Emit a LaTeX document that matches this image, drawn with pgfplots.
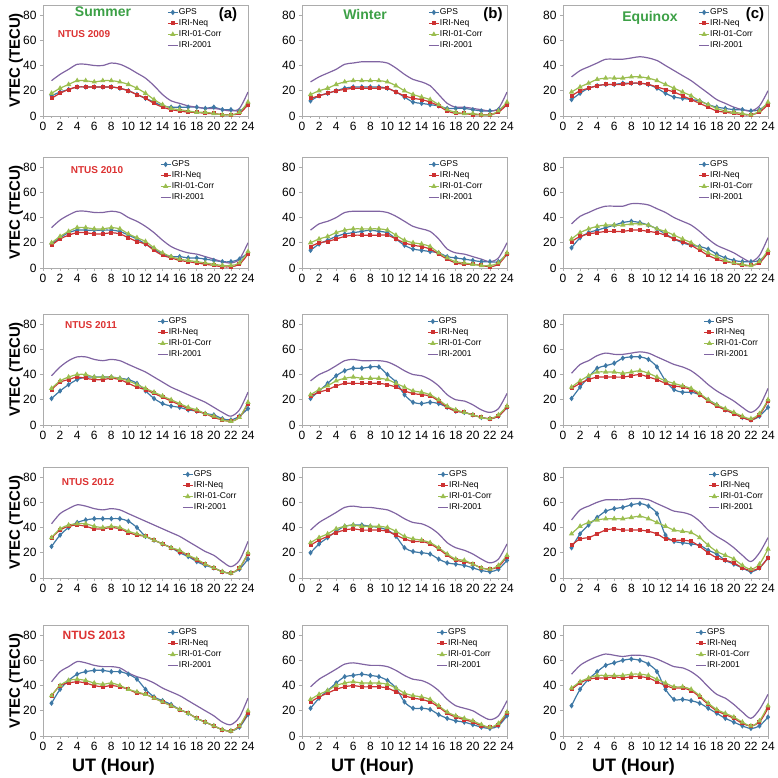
\documentclass[border=0pt]{standalone}
\usepackage{fontspec}
\setmainfont{Liberation Sans}
\usepackage{pgfplots}
\usepackage{pgfplotstable}
\pgfplotsset{compat=1.18}
\definecolor{gpsc}{RGB}{62,120,165}
\definecolor{neqc}{RGB}{205,50,50}
\definecolor{corrc}{RGB}{155,190,80}
\definecolor{iric}{RGB}{128,100,162}
\definecolor{titg}{RGB}{60,160,70}
\definecolor{ntusr}{RGB}{220,50,50}

\pgfplotstableread{
x gps neq corr iri
1 16 14 18 28
2 19 18 22 33
3 21 21 25 37
4 23 23 28 41
5 23 23 28 41
6 23 23 27 40
7 23 23 28 40
8 23 23 28 42
9 22 22 27 41
10 20 20 25 38
11 17 17 22 34
12 14 14 18 30
13 11 10 13 24
14 8 7 9 17
15 7 5 6 12
16 7 4 5 10
17 7 3 4 8
18 7 3 3 7
19 6 2 3 6
20 7 2 2 6
21 5 1 1 5
22 5 1 1 4
23 4 2 3 6
24 9 9 11 19
}\tAa
\pgfplotstableread{
x gps neq corr iri
1 12 14 17 27
2 16 16 20 31
3 18 18 22 34
4 20 20 25 37
5 22 21 27 41
6 23 22 28 42
7 23 22 28 43
8 23 22 28 43
9 23 22 28 43
10 22 22 27 42
11 19 19 24 38
12 15 16 20 33
13 11 14 17 29
14 10 13 15 27
15 9 11 13 24
16 8 8 9 17
17 6 4 5 10
18 6 2 3 7
19 6 2 2 7
20 5 1 2 6
21 4 1 1 5
22 4 1 1 4
23 5 3 4 6
24 9 9 11 19
}\tAb
\pgfplotstableread{
x gps neq corr iri
1 13 16 19 31
2 18 20 23 36
3 22 22 26 39
4 24 24 29 42
5 25 25 30 45
6 25 25 30 45
7 26 25 30 45
8 26 26 31 46
9 26 26 31 47
10 25 25 30 46
11 22 23 28 44
12 18 21 25 40
13 15 19 22 36
14 14 16 19 32
15 13 13 16 28
16 12 10 12 23
17 9 7 9 18
18 7 4 6 13
19 6 3 4 10
20 5 2 3 7
21 5 1 2 5
22 4 1 1 4
23 5 3 4 8
24 10 9 11 20
}\tAc
\pgfplotstableread{
x gps neq corr iri
1 19 18 20 32
2 24 23 25 38
3 28 26 29 42
4 30 28 32 45
5 30 28 32 45
6 30 27 31 44
7 30 27 31 44
8 30 28 32 45
9 29 27 31 44
10 26 24 27 40
11 23 21 24 37
12 19 19 21 33
13 15 14 16 28
14 11 10 12 22
15 9 8 9 17
16 9 6 7 14
17 8 5 6 12
18 8 4 5 11
19 7 3 4 9
20 6 2 3 7
21 5 1 2 5
22 5 1 2 4
23 7 3 4 7
24 12 11 13 20
}\tBa
\pgfplotstableread{
x gps neq corr iri
1 14 17 20 30
2 19 20 23 35
3 22 21 25 37
4 25 23 28 40
5 27 25 30 44
6 28 26 31 45
7 29 26 31 45
8 30 26 31 45
9 29 26 31 45
10 28 26 30 44
11 23 23 26 41
12 18 20 22 37
13 15 18 20 33
14 14 17 19 31
15 13 15 17 29
16 12 11 12 23
17 9 7 8 15
18 8 4 5 12
19 7 3 4 11
20 6 3 3 9
21 5 2 2 7
22 5 1 2 5
23 5 3 4 8
24 11 11 12 20
}\tBb
\pgfplotstableread{
x gps neq corr iri
1 16 21 23 35
2 24 25 28 41
3 28 27 31 44
4 30 28 33 47
5 32 29 34 49
6 34 29 34 49
7 36 29 34 49
8 37 30 35 51
9 36 30 35 51
10 34 29 34 50
11 31 28 31 47
12 27 26 29 44
13 23 23 26 40
14 20 21 23 37
15 18 18 20 34
16 17 14 16 29
17 15 10 12 23
18 11 7 9 18
19 8 5 6 15
20 6 4 4 12
21 5 2 3 8
22 5 2 2 5
23 6 4 5 10
24 12 12 14 24
}\tBc
\pgfplotstableread{
x gps neq corr iri
1 21 28 29 39
2 27 34 35 46
3 32 36 38 51
4 36 38 40 54
5 38 37 40 54
6 38 36 38 52
7 38 36 38 51
8 38 37 38 52
9 37 36 37 51
10 36 33 35 48
11 33 30 32 45
12 27 28 29 42
13 21 25 26 38
14 17 22 23 34
15 15 19 20 30
16 14 16 17 27
17 12 13 14 24
18 11 11 12 21
19 9 9 9 18
20 8 6 7 14
21 5 4 4 10
22 4 3 3 7
23 7 6 6 12
24 13 17 18 26
}\tCa
\pgfplotstableread{
x gps neq corr iri
1 21 23 24 35
2 27 26 28 40
3 33 28 31 43
4 39 31 35 47
5 43 33 37 51
6 45 33 38 52
7 45 33 37 51
8 46 33 37 51
9 46 33 37 51
10 40 32 36 50
11 34 30 33 47
12 24 27 30 43
13 18 25 27 40
14 17 24 26 39
15 18 23 24 36
16 17 19 20 31
17 14 14 15 24
18 11 11 12 20
19 10 10 10 19
20 8 8 8 16
21 6 6 6 12
22 5 5 5 10
23 7 7 8 13
24 14 14 15 25
}\tCb
\pgfplotstableread{
x gps neq corr iri
1 21 29 30 41
2 30 33 35 48
3 38 36 39 51
4 45 38 42 55
5 47 38 42 57
6 49 38 42 56
7 53 38 41 56
8 54 39 42 57
9 54 40 43 58
10 52 38 41 57
11 46 36 38 54
12 35 33 35 51
13 28 31 33 48
14 26 30 31 46
15 26 28 29 43
16 24 24 25 38
17 20 19 20 32
18 16 15 16 27
19 12 12 13 23
20 9 9 10 19
21 6 6 7 14
22 4 4 5 10
23 7 8 9 15
24 14 19 20 29
}\tCc
\pgfplotstableread{
x gps neq corr iri
1 25 32 32 43
2 34 38 39 51
3 40 41 42 55
4 44 42 43 58
5 46 41 43 57
6 47 39 41 55
7 47 39 40 54
8 47 40 41 55
9 47 39 40 54
10 45 36 37 51
11 40 34 35 48
12 33 33 33 45
13 30 30 30 42
14 27 27 27 39
15 24 24 24 36
16 20 21 22 33
17 17 18 18 29
18 13 14 15 25
19 10 11 11 21
20 8 8 8 18
21 5 5 5 13
22 4 4 4 9
23 7 8 8 14
24 15 19 20 29
}\tDa
\pgfplotstableread{
x gps neq corr iri
1 20 26 28 38
2 27 30 32 44
3 32 33 35 48
4 37 36 39 52
5 41 38 41 56
6 42 39 42 57
7 42 38 41 56
8 41 38 41 56
9 40 38 41 55
10 38 37 40 54
11 33 34 37 51
12 24 31 33 47
13 21 29 31 44
14 20 29 30 43
15 19 27 28 40
16 15 23 24 35
17 12 18 19 28
18 11 14 15 24
19 10 13 14 22
20 8 11 11 19
21 6 8 8 15
22 5 7 7 12
23 7 9 10 15
24 14 17 18 27
}\tDb
\pgfplotstableread{
x gps neq corr iri
1 24 26 35 46
2 35 31 41 54
3 42 32 44 57
4 48 35 46 60
5 53 38 47 62
6 55 39 47 62
7 56 38 47 62
8 58 38 48 63
9 59 38 49 63
10 57 37 47 62
11 51 35 44 59
12 34 31 41 56
13 29 30 38 53
14 28 30 37 52
15 27 29 36 50
16 26 25 32 45
17 22 20 26 38
18 19 16 21 33
19 14 14 18 29
20 11 12 15 24
21 8 8 10 18
22 5 6 7 13
23 8 8 11 20
24 16 16 23 32
}\tDc
\pgfplotstableread{
x gps neq corr iri
1 26 32 32 43
2 37 40 40 51
3 44 42 44 55
4 49 43 45 59
5 51 42 44 58
6 52 40 42 56
7 52 39 41 55
8 51 40 42 55
9 51 39 40 54
10 49 37 37 50
11 45 34 35 47
12 37 33 33 45
13 31 30 30 42
14 28 27 27 38
15 25 24 24 35
16 21 21 21 32
17 18 18 18 28
18 14 14 14 24
19 11 11 11 20
20 8 8 8 16
21 5 5 5 11
22 4 4 4 9
23 7 8 8 15
24 17 18 20 30
}\tEa
\pgfplotstableread{
x gps neq corr iri
1 22 27 29 39
2 30 31 33 45
3 36 34 36 49
4 42 37 40 53
5 47 39 42 57
6 48 40 43 58
7 49 39 42 57
8 48 39 42 56
9 47 39 42 56
10 44 38 41 55
11 38 35 38 52
12 27 32 34 48
13 22 30 32 45
14 22 29 31 44
15 21 27 29 41
16 17 23 24 36
17 14 18 19 29
18 12 15 16 24
19 11 13 14 22
20 9 11 12 20
21 7 8 9 16
22 6 7 7 13
23 8 9 10 16
24 16 18 19 28
}\tEb
\pgfplotstableread{
x gps neq corr iri
1 24 37 38 49
2 37 42 43 56
3 45 45 46 60
4 51 46 48 63
5 56 46 48 65
6 58 47 48 64
7 60 46 48 63
8 61 47 49 64
9 60 47 49 64
10 57 46 48 63
11 51 43 45 61
12 37 40 42 58
13 29 38 39 55
14 29 38 39 54
15 28 36 37 51
16 26 31 32 46
17 22 25 26 39
18 18 20 21 33
19 14 17 18 30
20 11 14 15 25
21 8 10 11 19
22 6 8 8 14
23 8 11 12 21
24 15 22 24 33
}\tEc

\pgfplotsset{
  panel/.style={
    width=205pt, height=111pt, scale only axis,
    anchor=south west,
    xmin=0, xmax=24, ymin=0, ymax=88,
    xtick={0,2,...,24}, ytick={0,20,...,80},
    minor x tick num=1,
    tick align=outside,
    xtick pos=bottom, ytick pos=left,
    major tick length=3pt, minor tick length=2pt,
    axis line style={gray!65, line width=0.8pt},
    every tick/.style={gray!65, line width=0.6pt},
    /pgf/number format/assume math mode=true,
    tick label style={font=\fontsize{12}{12}\selectfont, black},
    every axis y label/.style={at={(rel axis cs:0,0.5)}, xshift=-27pt, rotate=90, anchor=center, font=\fontsize{15}{15}\selectfont\bfseries},
    every axis x label/.style={at={(rel axis cs:0.5,0)}, anchor=center, xshift=-32pt, yshift=-31pt, font=\fontsize{18}{18}\selectfont\bfseries},
    legend cell align=left,
    legend image code/.code={\draw[mark repeat=2,mark phase=2,##1] plot coordinates {(0pt,0pt) (5pt,0pt) (10pt,0pt)};},
    legend style={draw=none, fill=none, inner sep=0pt, row sep=2.5pt,
      font=\fontsize{8.5}{8.5}\selectfont,
      nodes={inner sep=0.5pt, text height=6pt, text depth=1.5pt},
      /tikz/every even column/.append style={column sep=1pt}},
  },
  gpsS/.style={color=gpsc, line width=1.2pt, smooth, mark=diamond*, mark size=1.8pt},
  neqS/.style={color=neqc, line width=1.2pt, smooth, mark=square*, mark size=1.4pt},
  corrS/.style={color=corrc, line width=1.2pt, smooth, mark=triangle*, mark size=1.9pt},
  iriS/.style={color=iric, line width=1.2pt, smooth, mark=none},
}

\newcommand{\panel}[5]{%
\begin{axis}[panel, at={(#2pt,#3pt)},
  legend style={at={(rel axis cs:#4,1)}, anchor=north west, yshift=-3pt}, #5]
\addplot[gpsS] table[x=x,y=gps]{#1};
\addplot[neqS] table[x=x,y=neq]{#1};
\addplot[corrS] table[x=x,y=corr]{#1};
\addplot[iriS] table[x=x,y=iri]{#1};
\legend{GPS,IRI-Neq,IRI-01-Corr,IRI-2001}
\end{axis}}

\begin{document}
\begin{tikzpicture}[x=1pt,y=1pt]
\useasboundingbox (0,0) rectangle (778,778);
% row 1
\panel{\tAa}{43}{662}{0.605}{ylabel={VTEC (TECU)}}
\panel{\tAb}{302}{662}{0.615}{}
\panel{\tAc}{563}{662}{0.66}{}
% row 2
\panel{\tBa}{43}{510}{0.57}{ylabel={VTEC (TECU)}}
\panel{\tBb}{302}{510}{0.615}{}
\panel{\tBc}{563}{510}{0.66}{}
% row 3
\panel{\tCa}{43}{353}{0.556}{ylabel={VTEC (TECU)}}
\panel{\tCb}{302}{353}{0.61}{}
\panel{\tCc}{563}{353}{0.686}{}
% row 4
\panel{\tDa}{43}{200}{0.678}{ylabel={VTEC (TECU)}}
\panel{\tDb}{302}{200}{0.66}{}
\panel{\tDc}{563}{200}{0.71}{}
% row 5
\panel{\tEa}{43}{42}{0.605}{ylabel={VTEC (TECU)}, xlabel={UT (Hour)}}
\panel{\tEb}{302}{42}{0.655}{xlabel={UT (Hour)}}
\panel{\tEc}{563}{42}{0.645}{xlabel={UT (Hour)}}
% titles
\node[font=\fontsize{14}{14}\selectfont\bfseries, text=titg] at (103,766) {Summer};
\node[font=\fontsize{14}{14}\selectfont\bfseries, text=titg] at (365,763) {Winter};
\node[font=\fontsize{14}{14}\selectfont\bfseries, text=titg] at (650,760) {Equinox};
\node[font=\fontsize{15}{15}\selectfont\bfseries] at (228,763) {(a)};
\node[font=\fontsize{15}{15}\selectfont\bfseries] at (493,763) {(b)};
\node[font=\fontsize{15}{15}\selectfont\bfseries] at (755,763) {(c)};
\node[font=\fontsize{10}{10}\selectfont\bfseries, text=ntusr] at (84,744) {NTUS 2009};
\node[font=\fontsize{10}{10}\selectfont\bfseries, text=ntusr] at (97,608) {NTUS 2010};
\node[font=\fontsize{10}{10}\selectfont\bfseries, text=ntusr] at (91,453) {NTUS 2011};
\node[font=\fontsize{10}{10}\selectfont\bfseries, text=ntusr] at (88,296) {NTUS 2012};
\node[font=\fontsize{12}{12}\selectfont\bfseries, text=ntusr] at (94,143) {NTUS 2013};
\end{tikzpicture}
\end{document}
